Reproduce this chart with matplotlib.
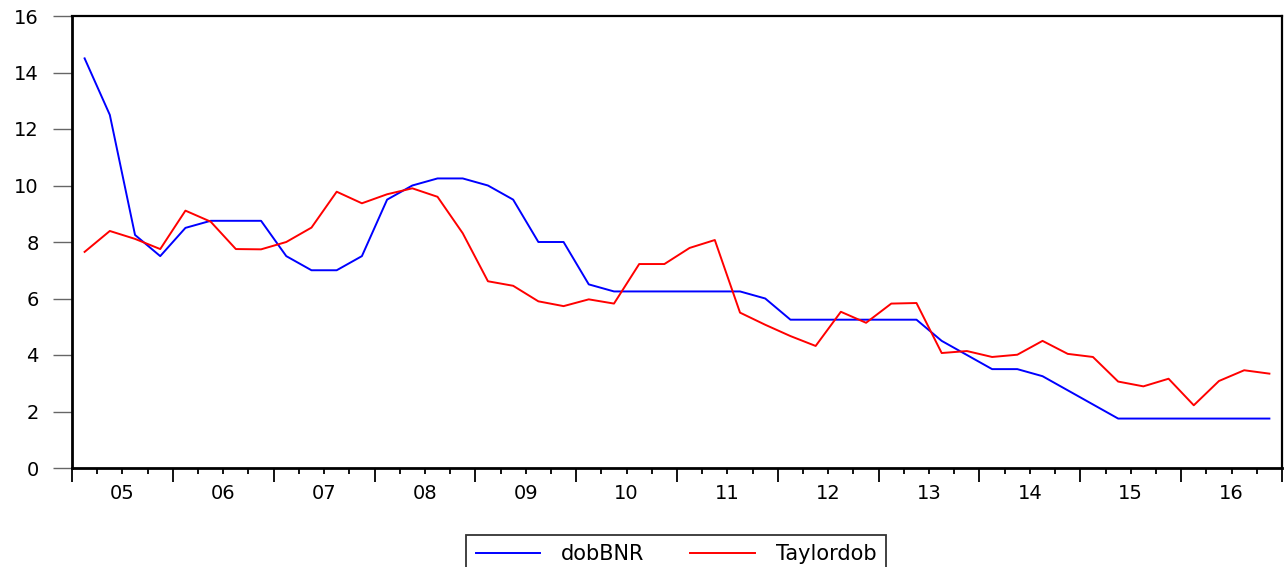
import matplotlib
matplotlib.use("Agg")
from matplotlib import pyplot as plt
import numpy as np

plt.rcParams['font.family'] = ['DejaVu Sans']

# quarterly data 2005Q1 - 2016Q4
years = ["05", "06", "07", "08", "09", "10", "11", "12", "13", "14", "15", "16"]

dobBNR = [14.5, 12.5, 8.25, 7.5, 8.5, 8.75, 8.75, 8.75,
          7.5, 7.0, 7.0, 7.5, 9.5, 10.0, 10.25, 10.25,
          10.0, 9.5, 8.0, 8.0, 6.5, 6.25, 6.25, 6.25,
          6.25, 6.25, 6.25, 6.0, 5.25, 5.25, 5.25, 5.25,
          5.25, 5.25, 4.5, 4.0, 3.5, 3.5, 3.25, 2.75,
          2.25, 1.75, 1.75, 1.75, 1.75, 1.75, 1.75, 1.75]

Taylordob = [7.65, 8.39, 8.11, 7.75, 9.11, 8.72, 7.75, 7.74,
             8.0, 8.51, 9.78, 9.37, 9.69, 9.90, 9.60, 8.31,
             6.61, 6.45, 5.90, 5.73, 5.97, 5.82, 7.22, 7.22,
             7.79, 8.07, 5.50, 5.07, 4.67, 4.32, 5.53, 5.14,
             5.82, 5.84, 4.07, 4.14, 3.93, 4.01, 4.50, 4.04,
             3.93, 3.06, 2.89, 3.16, 2.22, 3.08, 3.46, 3.34]

fig = plt.figure(figsize=(12.87, 5.67), dpi=100)
ax = fig.add_axes([72/1287, 1 - 468/567, (1282-72)/1287, (468-16)/567])

q = np.arange(len(dobBNR))
ax.plot(q, dobBNR, color='#0000ff', lw=1.4, label='dobBNR')
ax.plot(q, Taylordob, color='#ff0000', lw=1.4, label='Taylordob')

ax.set_xlim(-0.5, len(q) - 0.5)
ax.set_ylim(0, 16)

# y axis
ax.set_yticks(np.arange(0, 17, 2))
ax.tick_params(axis='y', direction='out', length=14, width=1, color='#666666',
               labelsize=14, pad=10)

# x axis: year boundaries as major ticks, quarters as minor, labels centred
ax.set_xticks(np.arange(-0.5, len(q), 4))
ax.set_xticklabels([])
ax.set_xticks(np.arange(-0.5, len(q), 1), minor=True)
ax.tick_params(axis='x', which='major', direction='out', length=10, width=1.3, color='black')
ax.tick_params(axis='x', which='minor', direction='out', length=4, width=1.3, color='black')
for i, y in enumerate(years):
    ax.text(1.5 + 4 * i, -0.55, y, ha='center', va='top', fontsize=14)

for s in ax.spines.values():
    s.set_linewidth(1.6)
    s.set_color('black')
ax.spines['left'].set_linewidth(2)
ax.spines['bottom'].set_linewidth(2)

leg = ax.legend(loc='upper center', bbox_to_anchor=((676-72)/1210, -(535-468)/452),
                ncol=2, frameon=True, fancybox=False, fontsize=15,
                handlelength=3.1, columnspacing=2.2, handletextpad=1.0,
                borderpad=0.45, edgecolor='black', borderaxespad=0)
leg.get_frame().set_linewidth(1.3)

fig.savefig('out.png', dpi=100)
